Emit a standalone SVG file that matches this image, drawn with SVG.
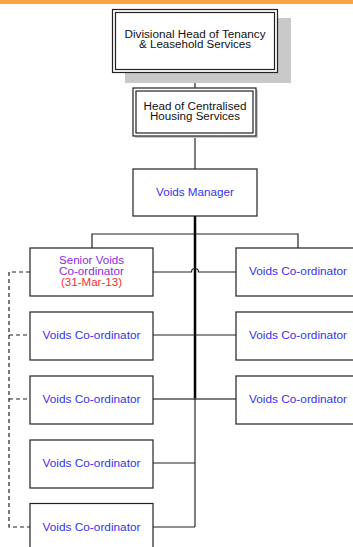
<svg xmlns="http://www.w3.org/2000/svg" width="353" height="547" viewBox="0 0 353 547">
  <style>
    .box { fill: #ffffff; stroke: #222222; stroke-width: 1.2; }
    .shadow { fill: #c9c9c9; }
    .lbl { font-family: "Liberation Sans", Arial, sans-serif; font-size: 10px; text-anchor: middle; }
    .dark { fill: #111111; }
    .blue { fill: #3333ee; }
    .purple { fill: #8b2be0; }
    .red { fill: #f03030; }
    .wire { fill: none; stroke: #222222; stroke-width: 1.2; }
    .grey { fill: none; stroke: #555555; stroke-width: 1.5; }
    .spine { fill: none; stroke: #000000; stroke-width: 2.5; }
    .dash { fill: none; stroke: #222222; stroke-width: 1.2; stroke-dasharray: 4 3; }
  </style>

  <!-- page header band -->
  <rect x="0" y="0" width="353" height="4" fill="#f8a340"/>

  <!-- connectors -->
  <g id="connectors">
    <path class="grey" d="M195 73 V88"/>
    <path class="grey" d="M195 136 V169"/>
    <path class="spine" d="M195 216 V400"/>
    <path class="grey" d="M195 400 V527"/>
    <path class="wire" d="M92 248 V234 H298 V248"/>
    <path class="wire" d="M153 272 H191.5 A3.5 3.5 0 0 1 198.5 272 H236"/>
    <path class="wire" d="M153 335 H236"/>
    <path class="grey" d="M153 399 H236"/>
    <path class="wire" d="M153 463 H195"/>
    <path class="wire" d="M153 527 H195"/>
    <path class="dash" d="M30 272 H9 V527 H30"/>
    <path class="dash" d="M9 335 H30"/>
    <path class="dash" d="M9 399 H30"/>
  </g>

  <g id="divisional-head">
    <rect class="shadow" x="125" y="18" width="166" height="65"/>
    <rect class="box" x="112.5" y="9.5" width="165" height="63"/>
    <rect class="box" x="115.5" y="12.5" width="159" height="57"/>
    <text class="lbl dark" x="195" y="38" textLength="141" lengthAdjust="spacingAndGlyphs">Divisional Head of Tenancy</text>
    <text class="lbl dark" x="195" y="47.5" textLength="112" lengthAdjust="spacingAndGlyphs">&amp; Leasehold Services</text>
  </g>

  <g id="head-centralised">
    <rect class="shadow" x="135" y="90" width="123" height="48"/>
    <rect class="box" x="133" y="88" width="123" height="48"/>
    <rect class="box" x="136" y="91" width="117" height="42"/>
    <text class="lbl dark" x="195" y="109.5" textLength="103" lengthAdjust="spacingAndGlyphs">Head of Centralised</text>
    <text class="lbl dark" x="195" y="120" textLength="90" lengthAdjust="spacingAndGlyphs">Housing Services</text>
  </g>

  <g id="voids-manager">
    <rect class="box" x="133" y="169" width="124" height="47"/>
    <text class="lbl blue" x="195" y="196" textLength="78" lengthAdjust="spacingAndGlyphs">Voids Manager</text>
  </g>

  <g id="senior-voids">
    <rect class="box" x="30" y="248" width="123" height="48"/>
    <text class="lbl purple" x="91.5" y="264" textLength="65" lengthAdjust="spacingAndGlyphs">Senior Voids</text>
    <text class="lbl purple" x="91.5" y="275" textLength="65" lengthAdjust="spacingAndGlyphs">Co-ordinator</text>
    <text class="lbl red" x="91.5" y="286" textLength="61" lengthAdjust="spacingAndGlyphs">(31-Mar-13)</text>
  </g>

  <g id="voids-right-1">
    <rect class="box" x="236" y="248" width="124" height="48"/>
    <text class="lbl blue" x="298" y="275" textLength="98" lengthAdjust="spacingAndGlyphs">Voids Co-ordinator</text>
  </g>

  <g id="voids-left-2">
    <rect class="box" x="30" y="312" width="123" height="48"/>
    <text class="lbl blue" x="91.5" y="338.5" textLength="98" lengthAdjust="spacingAndGlyphs">Voids Co-ordinator</text>
  </g>

  <g id="voids-right-2">
    <rect class="box" x="236" y="312" width="124" height="48"/>
    <text class="lbl blue" x="298" y="338.5" textLength="98" lengthAdjust="spacingAndGlyphs">Voids Co-ordinator</text>
  </g>

  <g id="voids-left-3">
    <rect class="box" x="30" y="376" width="123" height="48"/>
    <text class="lbl blue" x="91.5" y="402.5" textLength="98" lengthAdjust="spacingAndGlyphs">Voids Co-ordinator</text>
  </g>

  <g id="voids-right-3">
    <rect class="box" x="236" y="376" width="124" height="48"/>
    <text class="lbl blue" x="298" y="402.5" textLength="98" lengthAdjust="spacingAndGlyphs">Voids Co-ordinator</text>
  </g>

  <g id="voids-left-4">
    <rect class="box" x="30" y="440" width="123" height="48"/>
    <text class="lbl blue" x="91.5" y="467" textLength="98" lengthAdjust="spacingAndGlyphs">Voids Co-ordinator</text>
  </g>

  <g id="voids-left-5">
    <rect class="box" x="30" y="503.5" width="123" height="48"/>
    <text class="lbl blue" x="91.5" y="530.5" textLength="98" lengthAdjust="spacingAndGlyphs">Voids Co-ordinator</text>
  </g>
</svg>
